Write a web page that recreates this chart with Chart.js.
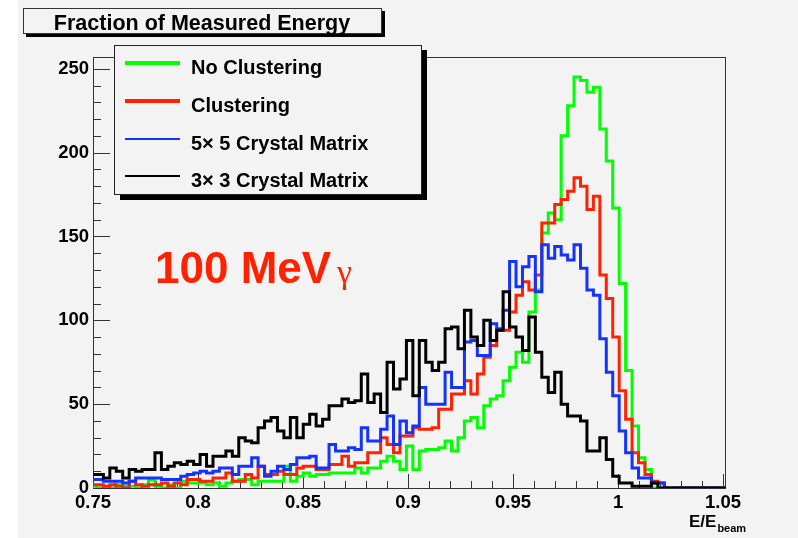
<!DOCTYPE html>
<html lang="en">

<head>
  <meta charset="UTF-8" />
  <title>Fraction of Measured Energy</title>
  <script src="https://cdn.jsdelivr.net/npm/chart.js"></script>
  <style>
    body { margin: 0; background: #ffffff; }
    #grafico { display: block; }
  </style>
</head>

<body>
  <canvas id="grafico" width="798" height="538"></canvas>

  <script>
    // axis ticks
    const xTicks = [0.75, 0.8, 0.85, 0.9, 0.95, 1, 1.05];
    const yTicks = [0, 50, 100, 150, 200, 250];

    // histogram binning (left edge of first bin, bin width)
    const binStart = 0.7488;
    const binWidth = 0.00307;

    const nomes = ['No Clustering', 'Clustering', '5\u00d7 5 Crystal Matrix', '3\u00d7 3 Crystal Matrix'];

    // counts per bin
    const semCluster = [
      1, 0, 1, 0, 2, 1, 1, 0, 2, 5,
      1, 0, 2, 0, 4, 3, 3, 3, 2, 3,
      1, 3, 4, 5, 5, 2, 4, 4, 4, 4,
      13, 4, 7, 9, 7, 8, 8, 9, 9, 9,
      9, 12, 9, 12, 12, 16, 19, 16, 11, 25,
      11, 22, 23, 23, 24, 28, 22, 30, 40, 42,
      36, 49, 53, 55, 64, 72, 81, 75, 105, 118,
      152, 164, 160, 210, 228, 245, 243, 236, 239, 214,
      195, 167, 122, 70, 37, 18, 11, 0, 0, 0,
      0, 0, 0, 0, 0, 0, 0, 0, 0
    ];
    const comCluster = [
      2, 2, 1, 2, 1, 0, 4, 2, 1, 2,
      2, 3, 1, 3, 2, 5, 5, 4, 4, 6,
      6, 9, 4, 4, 8, 6, 13, 8, 8, 10,
      8, 8, 12, 13, 13, 11, 11, 14, 14, 19,
      13, 15, 15, 21, 21, 30, 26, 21, 31, 31,
      36, 35, 35, 36, 47, 47, 56, 56, 64, 56,
      68, 78, 85, 94, 94, 105, 115, 123, 118, 127,
      158, 158, 169, 172, 177, 185, 180, 166, 174, 127,
      113, 90, 58, 41, 21, 15, 8, 4, 3, 0,
      0, 0, 0, 0, 0, 0, 0, 0, 0
    ];
    const matriz5x5 = [
      5, 5, 4, 4, 4, 3, 4, 6, 6, 6,
      6, 5, 5, 5, 7, 8, 9, 10, 9, 10,
      12, 12, 8, 13, 13, 18, 13, 7, 10, 13,
      11, 14, 18, 18, 19, 12, 12, 26, 22, 22,
      24, 23, 36, 28, 28, 35, 43, 26, 40, 33,
      37, 60, 50, 50, 50, 69, 60, 60, 87, 88,
      79, 79, 98, 95, 106, 135, 120, 132, 138, 117,
      145, 137, 144, 139, 136, 145, 131, 118, 115, 89,
      69, 55, 34, 21, 12, 6, 6, 3, 3, 0,
      0, 0, 0, 0, 0, 0, 0, 0, 0
    ];
    const matriz3x3 = [
      8, 8, 6, 12, 10, 6, 11, 10, 11, 11,
      21, 11, 13, 15, 14, 16, 14, 20, 13, 19,
      19, 22, 19, 30, 28, 27, 36, 40, 42, 34,
      30, 42, 30, 38, 44, 37, 41, 49, 49, 53,
      51, 52, 68, 51, 56, 45, 75, 59, 65, 88,
      55, 88, 75, 70, 75, 95, 96, 83, 106, 90,
      85, 100, 88, 94, 117, 96, 90, 82, 102, 81,
      66, 57, 69, 50, 43, 43, 40, 22, 22, 30,
      17, 7, 3, 3, 1, 1, 1, 3, 0, 0,
      0, 0, 0, 0, 0, 0, 0, 0, 0
    ];

    const fonte = '"Liberation Sans", Arial, sans-serif';
    const cinza = '#f3f3f3';

    function pontosHist(valores) {
      const pts = [];
      for (let i = 0; i < valores.length; i++) {
        pts.push({ x: binStart + i * binWidth, y: valores[i] });
      }
      pts.push({ x: binStart + valores.length * binWidth, y: 0 });
      return pts;
    }

    function serie(label, valores, cor, ordem, larguraLegenda) {
      return {
        label,
        data: pontosHist(valores),
        borderColor: cor,
        backgroundColor: cor,
        borderWidth: 3,
        stepped: 'before',
        pointRadius: 0,
        fill: false,
        borderJoinStyle: 'miter',
        order: ordem,
        larguraLegenda
      };
    }

    // frame, inward ticks, boxes and texts
    const decoracao = {
      id: 'decoracao',
      beforeDraw(chart) {
        const ctx = chart.ctx;
        ctx.save();
        ctx.fillStyle = '#ffffff';
        ctx.fillRect(0, 0, chart.width, chart.height);
        ctx.fillStyle = cinza;
        ctx.fillRect(18, 0, chart.width - 18, chart.height);
        ctx.restore();
      },
      beforeDatasetsDraw(chart) {
        const { ctx, chartArea: a, scales: { x, y } } = chart;
        ctx.save();
        ctx.strokeStyle = '#333';
        ctx.lineWidth = 1;
        ctx.strokeRect(a.left + 0.5, a.top + 0.5, a.right - a.left - 1, a.bottom - a.top);

        ctx.beginPath();
        for (let i = 0; i < yTicks.length; i++) {
          const py = Math.round(y.getPixelForValue(yTicks[i])) + 0.5;
          ctx.moveTo(a.left, py);
          ctx.lineTo(a.left + 17, py);
          for (let k = 1; k < 5; k++) {
            const v = yTicks[i] + k * 10;
            if (v > y.max) break;
            const pm = Math.round(y.getPixelForValue(v)) + 0.5;
            ctx.moveTo(a.left, pm);
            ctx.lineTo(a.left + 8, pm);
          }
        }
        for (let i = 0; i < xTicks.length; i++) {
          const px = Math.round(x.getPixelForValue(xTicks[i])) + 0.5;
          ctx.moveTo(px, a.bottom);
          ctx.lineTo(px, a.bottom - 14);
          if (i === xTicks.length - 1) break;
          for (let k = 1; k < 5; k++) {
            const pm = Math.round(x.getPixelForValue(xTicks[i] + k * 0.01)) + 0.5;
            ctx.moveTo(pm, a.bottom);
            ctx.lineTo(pm, a.bottom - 7);
          }
        }
        ctx.stroke();
        ctx.restore();
      },
      afterDraw(chart) {
        const ctx = chart.ctx;
        ctx.save();

        // title box
        ctx.fillStyle = '#000';
        ctx.fillRect(26, 34, 359, 3);
        ctx.fillRect(382, 11, 3, 26);
        ctx.fillStyle = cinza;
        ctx.fillRect(23, 8, 359, 26);
        ctx.strokeStyle = '#333';
        ctx.lineWidth = 1;
        ctx.strokeRect(23.5, 8.5, 358, 25);
        ctx.fillStyle = '#000';
        ctx.font = 'bold 21.5px ' + fonte;
        ctx.textAlign = 'center';
        ctx.textBaseline = 'alphabetic';
        ctx.fillText('Fraction of Measured Energy', 202, 30);

        // legend box
        ctx.fillStyle = '#000';
        ctx.fillRect(120, 195, 307, 5);
        ctx.fillRect(422, 50, 5, 150);
        ctx.fillStyle = cinza;
        ctx.fillRect(114, 45, 308, 150);
        ctx.strokeStyle = '#222';
        ctx.strokeRect(114.5, 45.5, 307, 149);

        const linhasY = [63, 101, 139, 176];
        ctx.textAlign = 'left';
        ctx.font = 'bold 20px ' + fonte;
        chart.data.datasets.forEach((ds, i) => {
          ctx.strokeStyle = ds.borderColor;
          ctx.lineWidth = ds.larguraLegenda;
          ctx.beginPath();
          ctx.moveTo(125, linhasY[i]);
          ctx.lineTo(180, linhasY[i]);
          ctx.stroke();
          ctx.fillStyle = '#000';
          ctx.fillText(ds.label, 191, linhasY[i] + 11);
        });

        // energy label
        ctx.fillStyle = '#ff2200';
        ctx.font = 'bold 44px ' + fonte;
        ctx.fillText('100 MeV', 155, 283);
        ctx.font = '34px "Liberation Serif", serif';
        ctx.fillText('\u03b3', 337, 283);

        // axis title E/E_beam
        ctx.fillStyle = '#000';
        ctx.font = 'bold 17px ' + fonte;
        ctx.fillText('E/E', 689, 527);
        const w = ctx.measureText('E/E').width;
        ctx.font = 'bold 11px ' + fonte;
        ctx.fillText('beam', 689 + w + 1, 532);

        ctx.restore();
      }
    };

    const ctx = document.getElementById('grafico').getContext('2d');

    new Chart(ctx, {
      type: 'line',
      data: {
        datasets: [
          serie(nomes[0], semCluster, '#00ff00', 4, 4),
          serie(nomes[1], comCluster, '#ff2200', 3, 4),
          serie(nomes[2], matriz5x5, '#1433ff', 2, 2),
          serie(nomes[3], matriz3x3, '#000000', 1, 2)
        ]
      },
      options: {
        responsive: false,
        animation: false,
        events: [],
        layout: { padding: { top: 57, right: 72, left: 0, bottom: 0 } },
        plugins: {
          legend: { display: false },
          title: { display: false },
          tooltip: { enabled: false }
        },
        scales: {
          x: {
            type: 'linear',
            min: 0.75,
            max: 1.0514,
            grid: { display: false, drawTicks: false },
            border: { display: false },
            afterFit(s) { s.height = 50; },
            afterBuildTicks(s) { s.ticks = xTicks.map(v => ({ value: v })); },
            ticks: {
              padding: 4,
              color: '#000',
              autoSkip: false,
              maxRotation: 0,
              font: { family: fonte, size: 18.5, weight: 'bold' },
              callback: v => String(+Number(v).toFixed(2))
            }
          },
          y: {
            type: 'linear',
            min: 0,
            max: 257,
            grid: { display: false, drawTicks: false },
            border: { display: false },
            afterFit(s) { s.width = 93; },
            afterBuildTicks(s) { s.ticks = yTicks.map(v => ({ value: v })); },
            ticks: {
              padding: 4,
              color: '#000',
              font: { family: fonte, size: 18.5, weight: 'bold' }
            }
          }
        }
      },
      plugins: [decoracao]
    });
  </script>
</body>

</html>
